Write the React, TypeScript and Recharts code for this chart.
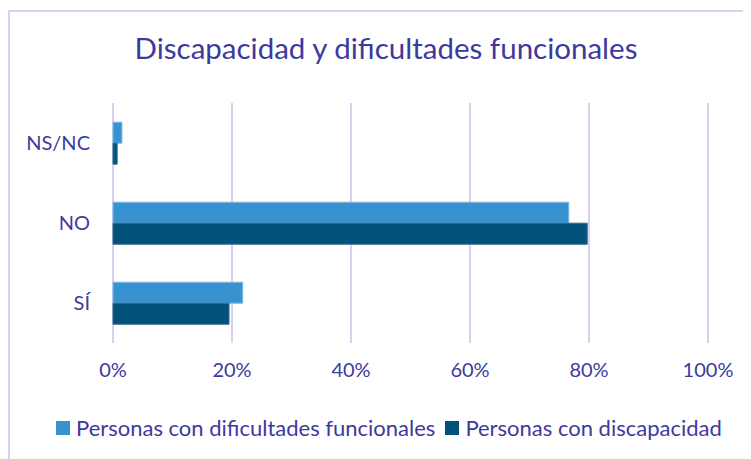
import { Bar, BarChart, CartesianGrid, XAxis, YAxis } from "recharts";

const categories = ["NS/NC", "NO", "SÍ"];
const dificultades = [1.5, 76.6, 21.8];
const discapacidad = [0.7, 79.7, 19.5];
const xTicks = [0, 20, 40, 60, 80, 100];

const TEXT = "#3d3a9e";
const LIGHT = "#3892cf";
const DARK = "#03527a";
const GRID = "#d6d1f3";
const FONT = "Lato, 'Open Sans', sans-serif";

const data = categories.map((c, i) => ({
  cat: c,
  dificultades: dificultades[i],
  discapacidad: discapacidad[i],
}));

export default function App() {
  return (
    <div style={{ position: "relative", width: 743, height: 451, overflow: "hidden", fontFamily: FONT }}>
      <div
        style={{
          position: "absolute",
          left: 0,
          top: 2,
          width: 800,
          height: 500,
          borderTop: `2px solid ${GRID}`,
          borderLeft: `2px solid ${GRID}`,
        }}
      />
      <div
        style={{
          position: "absolute",
          left: 0,
          width: 756,
          top: 22,
          textAlign: "center",
          color: TEXT,
          fontSize: 29.5,
          whiteSpace: "nowrap",
        }}
      >
        Discapacidad y dificultades funcionales
      </div>
      <div style={{ position: "absolute", left: 0, top: 0 }}>
        <BarChart
          width={743}
          height={451}
          data={data}
          layout="vertical"
          margin={{ top: 95, right: 43, bottom: 86, left: 0 }}
          barCategoryGap="24%"
          barGap={0}
        >
          <CartesianGrid horizontal={false} stroke={GRID} strokeWidth={2} />
          <XAxis
            type="number"
            domain={[0, 100]}
            ticks={xTicks}
            tickFormatter={(v) => `${v}%`}
            axisLine={false}
            tickLine={false}
            tickSize={0}
            tickMargin={20}
            height={30}
            tick={{ fill: TEXT, fontSize: 20, fontFamily: FONT }}
            interval={0}
          />
          <YAxis
            type="category"
            dataKey="cat"
            width={105}
            axisLine={false}
            tickLine={false}
            tickSize={0}
            tickMargin={23}
            tick={{ fill: TEXT, fontSize: 20, fontFamily: FONT }}
          />
          <Bar dataKey="dificultades" fill={LIGHT} stroke="#7db9e3" strokeWidth={1} isAnimationActive={false} />
          <Bar dataKey="discapacidad" fill={DARK} stroke="#2a6b8f" strokeWidth={1} isAnimationActive={false} />
        </BarChart>
      </div>
      <div
        style={{
          position: "absolute",
          left: 48,
          top: 406,
          display: "flex",
          alignItems: "center",
          color: TEXT,
          fontSize: 22,
          whiteSpace: "nowrap",
        }}
      >
        <span style={{ width: 14, height: 14, background: LIGHT, marginRight: 6 }} />
        <span style={{ marginRight: 10 }}>Personas con dificultades funcionales</span>
        <span style={{ width: 14, height: 14, background: DARK, marginRight: 6 }} />
        <span>Personas con discapacidad</span>
      </div>
    </div>
  );
}
